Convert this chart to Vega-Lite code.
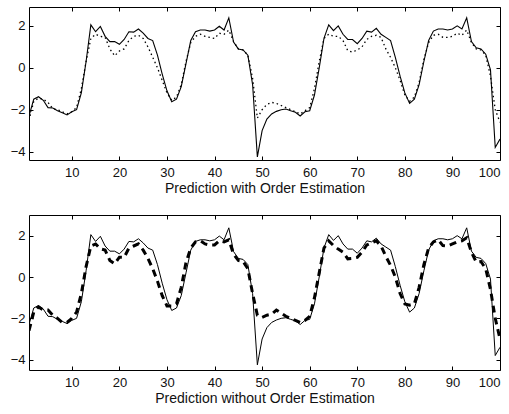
{
  "$schema": "https://vega.github.io/schema/vega-lite/v6.json",
  "padding": {"left": 9, "top": 6, "right": 0, "bottom": 0},
  "background": "white",
  "spacing": 18,
  "data": {"values": [
    {"x":1,"a":-2.3,"p":-2.5,"q":-2.6},
    {"x":2,"a":-1.5,"p":-1.6,"q":-1.7},
    {"x":3,"a":-1.38,"p":-1.45,"q":-1.45},
    {"x":4,"a":-1.55,"p":-1.5,"q":-1.6},
    {"x":5,"a":-1.9,"p":-1.65,"q":-1.6},
    {"x":6,"a":-1.92,"p":-1.95,"q":-1.85},
    {"x":7,"a":-2.05,"p":-2.0,"q":-2.0},
    {"x":8,"a":-2.15,"p":-2.1,"q":-2.2},
    {"x":9,"a":-2.25,"p":-2.2,"q":-2.2},
    {"x":10,"a":-2.1,"p":-2.1,"q":-2.0},
    {"x":11,"a":-2.0,"p":-1.9,"q":-1.7},
    {"x":12,"a":-1.2,"p":-1.0,"q":-0.8},
    {"x":13,"a":0.3,"p":0.3,"q":0.5},
    {"x":14,"a":2.05,"p":1.4,"q":1.5},
    {"x":15,"a":1.72,"p":1.6,"q":1.6},
    {"x":16,"a":1.97,"p":1.5,"q":1.36},
    {"x":17,"a":1.5,"p":1.45,"q":1.3},
    {"x":18,"a":1.25,"p":0.9,"q":0.8},
    {"x":19,"a":1.25,"p":0.57,"q":0.64},
    {"x":20,"a":1.12,"p":0.8,"q":0.96},
    {"x":21,"a":1.35,"p":0.9,"q":0.95},
    {"x":22,"a":1.72,"p":1.3,"q":1.4},
    {"x":23,"a":1.7,"p":1.5,"q":1.5},
    {"x":24,"a":1.85,"p":1.55,"q":1.6},
    {"x":25,"a":1.65,"p":1.4,"q":1.3},
    {"x":26,"a":1.4,"p":1.0,"q":0.9},
    {"x":27,"a":1.3,"p":0.5,"q":0.4},
    {"x":28,"a":0.6,"p":0.0,"q":-0.2},
    {"x":29,"a":-0.3,"p":-0.6,"q":-0.9},
    {"x":30,"a":-1.1,"p":-1.2,"q":-1.4},
    {"x":31,"a":-1.62,"p":-1.55,"q":-1.4},
    {"x":32,"a":-1.5,"p":-1.4,"q":-1.3},
    {"x":33,"a":-0.9,"p":-0.8,"q":-0.5},
    {"x":34,"a":0.2,"p":0.3,"q":0.7},
    {"x":35,"a":1.3,"p":1.2,"q":1.4},
    {"x":36,"a":1.72,"p":1.5,"q":1.7},
    {"x":37,"a":1.8,"p":1.6,"q":1.75},
    {"x":38,"a":1.8,"p":1.5,"q":1.6},
    {"x":39,"a":1.75,"p":1.45,"q":1.55},
    {"x":40,"a":1.8,"p":1.4,"q":1.55},
    {"x":41,"a":1.98,"p":1.65,"q":1.75},
    {"x":42,"a":1.8,"p":1.6,"q":1.7},
    {"x":43,"a":2.38,"p":1.8,"q":1.8},
    {"x":44,"a":1.23,"p":1.25,"q":1.1},
    {"x":45,"a":0.9,"p":0.9,"q":0.8},
    {"x":46,"a":0.85,"p":0.85,"q":0.75},
    {"x":47,"a":0.6,"p":0.6,"q":0.4},
    {"x":48,"a":-0.8,"p":-0.5,"q":-0.8},
    {"x":49,"a":-4.25,"p":-2.4,"q":-1.85},
    {"x":50,"a":-3.0,"p":-2.0,"q":-1.95},
    {"x":51,"a":-2.45,"p":-1.75,"q":-1.85},
    {"x":52,"a":-2.2,"p":-1.65,"q":-1.8},
    {"x":53,"a":-2.08,"p":-1.7,"q":-1.6},
    {"x":54,"a":-2.0,"p":-1.8,"q":-1.75},
    {"x":55,"a":-1.97,"p":-1.9,"q":-1.9},
    {"x":56,"a":-2.05,"p":-2.0,"q":-2.0},
    {"x":57,"a":-2.12,"p":-2.1,"q":-2.1},
    {"x":58,"a":-2.3,"p":-2.2,"q":-2.2},
    {"x":59,"a":-2.1,"p":-2.05,"q":-2.1},
    {"x":60,"a":-2.05,"p":-1.9,"q":-1.9},
    {"x":61,"a":-1.3,"p":-1.0,"q":-1.0},
    {"x":62,"a":0.0,"p":0.3,"q":0.2},
    {"x":63,"a":1.4,"p":1.4,"q":1.4},
    {"x":64,"a":2.05,"p":1.6,"q":1.75},
    {"x":65,"a":1.77,"p":1.5,"q":1.52},
    {"x":66,"a":2.0,"p":1.5,"q":1.35},
    {"x":67,"a":1.6,"p":1.3,"q":1.2},
    {"x":68,"a":1.35,"p":0.82,"q":0.88},
    {"x":69,"a":1.35,"p":0.75,"q":0.9},
    {"x":70,"a":1.15,"p":0.85,"q":0.95},
    {"x":71,"a":1.4,"p":1.0,"q":1.2},
    {"x":72,"a":1.75,"p":1.35,"q":1.55},
    {"x":73,"a":1.7,"p":1.5,"q":1.65},
    {"x":74,"a":1.88,"p":1.55,"q":1.75},
    {"x":75,"a":1.6,"p":1.45,"q":1.5},
    {"x":76,"a":1.45,"p":0.9,"q":1.0},
    {"x":77,"a":1.3,"p":0.5,"q":0.56},
    {"x":78,"a":0.5,"p":0.0,"q":0.0},
    {"x":79,"a":-0.4,"p":-0.6,"q":-0.8},
    {"x":80,"a":-1.2,"p":-1.3,"q":-1.3},
    {"x":81,"a":-1.7,"p":-1.6,"q":-1.36},
    {"x":82,"a":-1.5,"p":-1.4,"q":-1.3},
    {"x":83,"a":-0.8,"p":-0.7,"q":-0.5},
    {"x":84,"a":0.3,"p":0.4,"q":0.6},
    {"x":85,"a":1.3,"p":1.2,"q":1.4},
    {"x":86,"a":1.75,"p":1.55,"q":1.7},
    {"x":87,"a":1.85,"p":1.6,"q":1.8},
    {"x":88,"a":1.85,"p":1.45,"q":1.52},
    {"x":89,"a":1.8,"p":1.45,"q":1.5},
    {"x":90,"a":1.85,"p":1.5,"q":1.6},
    {"x":91,"a":2.0,"p":1.65,"q":1.7},
    {"x":92,"a":1.85,"p":1.55,"q":1.75},
    {"x":93,"a":2.38,"p":1.8,"q":1.9},
    {"x":94,"a":1.25,"p":1.2,"q":1.2},
    {"x":95,"a":0.95,"p":0.9,"q":0.72},
    {"x":96,"a":0.9,"p":0.85,"q":0.75},
    {"x":97,"a":0.65,"p":0.6,"q":0.4},
    {"x":98,"a":-0.1,"p":-0.4,"q":-0.6},
    {"x":99,"a":-3.8,"p":-2.0,"q":-2.0},
    {"x":100,"a":-3.4,"p":-2.6,"q":-3.0}
  ]},
  "config": {
    "view": {"stroke": "black", "strokeWidth": 1},
    "font": "Liberation Sans",
    "axis": {
      "grid": false,
      "domain": false,
      "tickColor": "black",
      "tickSize": -4,
      "labelPadding": 10,
      "labelFont": "Liberation Sans",
      "labelFontSize": 13,
      "labelColor": "#111",
      "titleFont": "Liberation Sans",
      "titleFontSize": 14,
      "titleFontWeight": "normal",
      "titleColor": "#111",
      "titlePadding": 2
    }
  },
  "vconcat": [
    {
      "width": 471,
      "height": 153,
      "layer": [
        {
          "mark": {"type": "line", "color": "black", "strokeWidth": 1.1, "clip": true},
          "encoding": {
            "x": {"field": "x", "type": "quantitative", "scale": {"domain": [1, 100], "nice": false},
                  "axis": {"orient": "bottom", "values": [10,20,30,40,50,60,70,80,90,100], "title": "Prediction with Order Estimation"}},
            "y": {"field": "a", "type": "quantitative", "scale": {"domain": [-4.4, 2.9], "nice": false, "zero": false},
                  "axis": {"orient": "left", "values": [-4,-2,0,2], "title": null, "labelPadding": 8}}
          }
        },
        {
          "mark": {"type": "line", "color": "black", "strokeWidth": 1.3, "strokeDash": [1.5, 3], "clip": true},
          "encoding": {
            "x": {"field": "x", "type": "quantitative",
                  "axis": {"orient": "top", "values": [10,20,30,40,50,60,70,80,90,100], "labels": false, "title": null}},
            "y": {"field": "p", "type": "quantitative",
                  "axis": {"orient": "right", "values": [-4,-2,0,2], "labels": false, "title": null}}
          }
        }
      ],
      "resolve": {"axis": {"x": "independent", "y": "independent"}}
    },
    {
      "width": 471,
      "height": 155,
      "layer": [
        {
          "mark": {"type": "line", "color": "black", "strokeWidth": 1, "clip": true},
          "encoding": {
            "x": {"field": "x", "type": "quantitative", "scale": {"domain": [1, 100], "nice": false},
                  "axis": {"orient": "bottom", "values": [10,20,30,40,50,60,70,80,90,100], "title": "Prediction without Order Estimation"}},
            "y": {"field": "a", "type": "quantitative", "scale": {"domain": [-4.5, 3], "nice": false, "zero": false},
                  "axis": {"orient": "left", "values": [-4,-2,0,2], "title": null, "labelPadding": 8}}
          }
        },
        {
          "mark": {"type": "line", "color": "black", "strokeWidth": 3, "strokeDash": [7, 5], "clip": true},
          "encoding": {
            "x": {"field": "x", "type": "quantitative",
                  "axis": {"orient": "top", "values": [10,20,30,40,50,60,70,80,90,100], "labels": false, "title": null}},
            "y": {"field": "q", "type": "quantitative",
                  "axis": {"orient": "right", "values": [-4,-2,0,2], "labels": false, "title": null}}
          }
        }
      ],
      "resolve": {"axis": {"x": "independent", "y": "independent"}}
    }
  ]
}
